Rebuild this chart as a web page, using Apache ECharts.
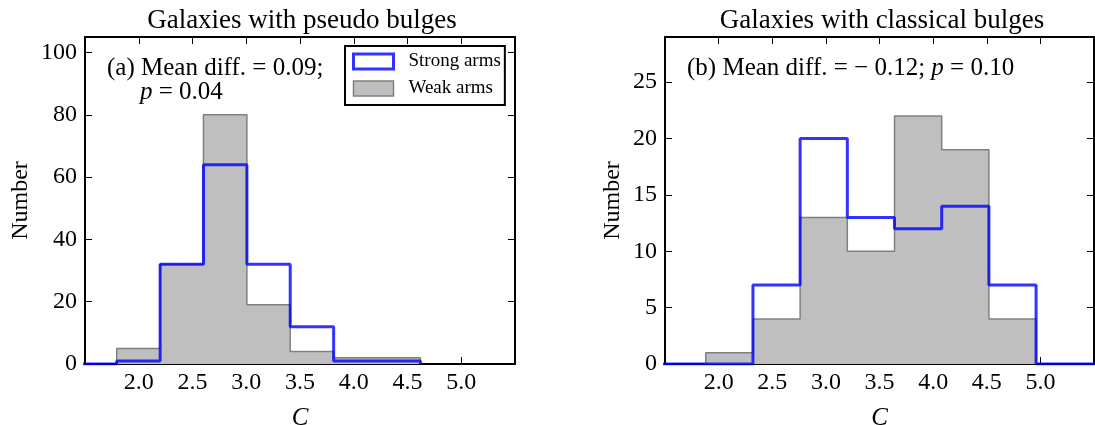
<!DOCTYPE html>
<html><head><meta charset="utf-8">
<script src="https://cdn.jsdelivr.net/npm/echarts@6/dist/echarts.min.js"></script>
<style>html,body{margin:0;padding:0;background:#fff}#c{width:1095px;height:425px}</style>
</head><body><div id="c"></div>
<script>
// ---- data ----
const xTickValues = [2.0, 2.5, 3.0, 3.5, 4.0, 4.5, 5.0];
// Panel (a): pseudo bulges
const pseudoEdges = [1.795, 2.199, 2.602, 3.006, 3.409, 3.813, 4.216, 4.62];
const pseudoWeak = [5, 32, 80, 19, 4, 2, 2];
const pseudoStrongEdges = [1.391, 1.795, 2.199, 2.602, 3.006, 3.409, 3.813, 4.216, 4.62];
const pseudoStrong = [0, 1, 32, 64, 32, 12, 1, 1];
// Panel (b): classical bulges
const classicalEdges = [1.88, 2.32, 2.76, 3.20, 3.64, 4.08, 4.52, 4.96];
const classicalWeak = [1, 4, 13, 10, 22, 19, 4];
const classicalStrongEdges = [1.44, 1.88, 2.32, 2.76, 3.20, 3.64, 4.08, 4.52, 4.96, 5.40, 5.84];
const classicalStrong = [0, 0, 7, 20, 13, 12, 14, 7, 0, 0];
const titles = ['Galaxies with pseudo bulges', 'Galaxies with classical bulges'];
const seriesNames = ['Strong arms', 'Weak arms'];

// ---- helpers ----
const FONT = "'Liberation Serif', 'DejaVu Serif', serif";
function stepPoints(edges, counts) {
  const pts = [[edges[0], 0]];
  for (let i = 0; i < counts.length; i++) {
    pts.push([edges[i], counts[i]]);
    pts.push([edges[i + 1], counts[i]]);
  }
  pts.push([edges[edges.length - 1], 0]);
  return pts;
}
const grids = [
  {left: 85, top: 37, width: 430, height: 327, containLabel: false, outerBoundsMode: 'none'},
  {left: 665, top: 37, width: 429, height: 327, containLabel: false, outerBoundsMode: 'none'}
];
function xAxis(gi, pos, labels) {
  return {
    type: 'value', gridIndex: gi, position: pos, min: 1.5, max: 5.5, interval: 0.5,
    axisLine: {show: true, onZero: false, lineStyle: {color: '#000', width: 2}},
    axisTick: {show: true, inside: true, length: 7, lineStyle: {color: '#000', width: 1}},
    splitLine: {show: false},
    axisLabel: labels ? {
      show: true, margin: 7, color: '#000', fontFamily: FONT, fontSize: 24,
      showMinLabel: false, showMaxLabel: false,
      formatter: v => (xTickValues.some(t => Math.abs(t - v) < 1e-6) ? v.toFixed(1) : '')
    } : {show: false},
    name: labels ? 'C' : '', nameLocation: 'middle', nameGap: 42,
    nameTextStyle: {fontFamily: FONT, fontStyle: 'italic', fontSize: 25, color: '#000'}
  };
}
function yAxis(gi, pos, labels, max, interval, gap) {
  return {
    type: 'value', gridIndex: gi, position: pos, min: 0, max: max, interval: interval,
    axisLine: {show: true, onZero: false, lineStyle: {color: '#000', width: 2}},
    axisTick: {show: true, inside: true, length: 7, lineStyle: {color: '#000', width: 1}},
    splitLine: {show: false},
    axisLabel: labels ? {
      show: true, margin: 8, color: '#000', fontFamily: FONT, fontSize: 24,
      showMaxLabel: false,
      formatter: v => (v % interval === 0 ? String(v) : '')
    } : {show: false},
    name: labels ? 'Number' : '', nameLocation: 'middle', nameGap: gap, nameRotate: 90,
    nameTextStyle: {fontFamily: FONT, fontSize: 24, color: '#000'}
  };
}
const strongStyle = {color: 'rgba(0,0,255,0.8)', width: 3};
function weakSeries(xi, yi, edges, counts) {
  return {
    name: seriesNames[1], type: 'line', xAxisIndex: xi, yAxisIndex: yi,
    data: stepPoints(edges, counts), symbol: 'none', z: 2, clip: true,
    lineStyle: {color: '#808080', width: 1.5}, itemStyle: {color: '#bfbfbf'},
    areaStyle: {color: '#bfbfbf', opacity: 1}
  };
}
function strongSeries(xi, yi, edges, counts) {
  return {
    name: seriesNames[0], type: 'line', xAxisIndex: xi, yAxisIndex: yi,
    data: stepPoints(edges, counts), symbol: 'none', z: 3, clip: true,
    lineStyle: strongStyle, itemStyle: {color: '#ffffff'}
  };
}

const option = {
  backgroundColor: '#fff',
  animation: false,
  title: [
    {text: titles[0], left: 297, top: 2, textAlign: 'center',
     textStyle: {fontFamily: FONT, fontSize: 27, fontWeight: 'normal', color: '#000'}},
    {text: titles[1], left: 877, top: 2, textAlign: 'center',
     textStyle: {fontFamily: FONT, fontSize: 27, fontWeight: 'normal', color: '#000'}}
  ],
  grid: grids,
  xAxis: [xAxis(0, 'bottom', true), xAxis(0, 'top', false), xAxis(1, 'bottom', true), xAxis(1, 'top', false)],
  yAxis: [yAxis(0, 'left', true, 105, 20, 52), yAxis(0, 'right', false, 105, 20, 0),
          yAxis(1, 'left', true, 29, 5, 40), yAxis(1, 'right', false, 29, 5, 0)],
  legend: {
    left: 345, top: 46, orient: 'vertical', icon: 'rect',
    itemWidth: 40, itemHeight: 15, itemGap: 8,
    padding: [6, 4, 7, 7],
    borderColor: '#000', borderWidth: 2, backgroundColor: '#fff',
    textStyle: {fontFamily: FONT, fontSize: 19, color: '#000', padding: [0, 0, 0, 10]},
    data: [
      {name: seriesNames[0], itemStyle: {color: '#ffffff', borderColor: 'rgba(0,0,255,0.8)', borderWidth: 3}},
      {name: seriesNames[1], itemStyle: {color: '#bfbfbf', borderColor: '#808080', borderWidth: 1.5}}
    ],
    selectedMode: false
  },
  graphic: [
    {type: 'text', left: 107, top: 56, z: 10, style: {
      text: '(a) Mean diff. = 0.09;', font: "25px 'Liberation Serif'", fill: '#000'}},
    {type: 'text', left: 140, top: 80, z: 10, style: {
      text: '{i|p} = 0.04', font: "25px 'Liberation Serif'", fill: '#000',
      rich: {i: {fontStyle: 'italic', fontFamily: 'Liberation Serif', fontSize: 25}}}},
    {type: 'text', left: 687, top: 56, z: 10, style: {
      text: '(b) Mean diff. = \u2212 0.12; {i|p} = 0.10', font: "25px 'Liberation Serif'", fill: '#000',
      rich: {i: {fontStyle: 'italic', fontFamily: 'Liberation Serif', fontSize: 25}}}}
  ],
  series: [
    weakSeries(0, 0, pseudoEdges, pseudoWeak),
    strongSeries(0, 0, pseudoStrongEdges, pseudoStrong),
    weakSeries(2, 2, classicalEdges, classicalWeak),
    strongSeries(2, 2, classicalStrongEdges, classicalStrong)
  ]
};
const chart = echarts.init(document.getElementById('c'), null, {renderer: 'canvas'});
chart.setOption(option);
</script></body></html>
